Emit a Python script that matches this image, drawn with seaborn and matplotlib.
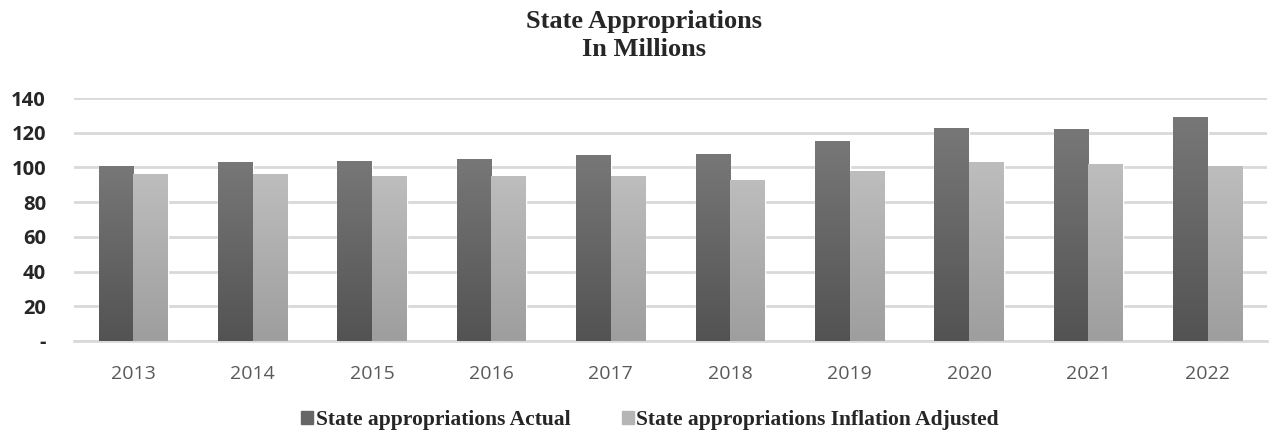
import numpy as np
import pandas as pd
import matplotlib
matplotlib.use("Agg")
import matplotlib.pyplot as plt
import seaborn as sns

years = ["2013", "2014", "2015", "2016", "2017", "2018", "2019", "2020", "2021", "2022"]
actual = [101, 103, 104, 105, 107, 108, 115, 123, 122, 129]
adjusted = [96, 96, 95, 95, 95, 93, 98, 103, 102, 101]
series = ["State appropriations Actual", "State appropriations Inflation Adjusted"]

df = pd.DataFrame({
    "year": years * 2,
    "value": actual + adjusted,
    "series": [series[0]] * len(years) + [series[1]] * len(years),
})

sns.set_style("white")
fig = plt.figure(figsize=(12.7, 4.36), dpi=100)
ax = fig.add_axes([0.058, 0.218, 0.94, 0.557])

colors = ["#5f5f5f", "#adadad"]
sns.barplot(data=df, x="year", y="value", hue="series", palette=colors,
            width=0.58, ax=ax, legend=False, saturation=1)

# vertical gradient on each bar, like the original
grads = {colors[0]: ("#777777", "#535353"), colors[1]: ("#bdbdbd", "#9e9e9e")}
for i, p in enumerate(ax.patches):
    c = colors[0] if i < len(years) else colors[1]
    top, bot = grads[c]
    x0, y0 = p.get_x(), p.get_y()
    w, h = p.get_width(), p.get_height()
    cmap = matplotlib.colors.LinearSegmentedColormap.from_list("g", [bot, top])
    grad = np.linspace(0, 1, 100).reshape(-1, 1)
    im = ax.imshow(grad, cmap=cmap, origin="lower", aspect="auto",
                   extent=[x0, x0 + w, y0, y0 + h], zorder=3)
    im.set_clip_path(p)
    p.set_zorder(2)

ax.set_xlim(-0.5, len(years) - 0.5)
ax.set_ylim(0, 140)
ax.set_yticks(range(0, 141, 20))
ax.set_yticklabels(["-"] + [str(v) for v in range(20, 141, 20)],
                   fontfamily="Open Sans", fontweight="bold", fontsize=14.5)
ax.yaxis.grid(True, color="#d9d9d9", linewidth=2)
ax.set_axisbelow(True)
for lab in ax.get_xticklabels():
    lab.set_fontfamily("Open Sans")
    lab.set_fontsize(14)
    lab.set_color("#595959")
ax.tick_params(axis="both", length=0)
ax.tick_params(axis="x", pad=17)
ax.tick_params(axis="y", pad=20)
for s in ["top", "right", "left"]:
    ax.spines[s].set_visible(False)
ax.spines["bottom"].set_color("#d9d9d9")
ax.spines["bottom"].set_linewidth(2)
ax.set_xlabel("")
ax.set_ylabel("")

fig.text(0.507, 0.978, "State Appropriations\nIn Millions", ha="center", va="top",
         fontfamily="Liberation Serif", fontweight="bold", fontsize=19, linespacing=1.3)

handles = [plt.Rectangle((0, 0), 1, 1, color=c) for c in ["#666666", "#b5b5b5"]]
fig.legend(handles, series, loc="center", bbox_to_anchor=(0.512, 0.036), ncol=2,
           frameon=False, handlelength=0.55, handleheight=0.55, handletextpad=0.12,
           columnspacing=2.4, borderpad=0,
           prop={"family": "Liberation Serif", "weight": "bold", "size": 15.5})

fig.savefig("out.png", dpi=100)
